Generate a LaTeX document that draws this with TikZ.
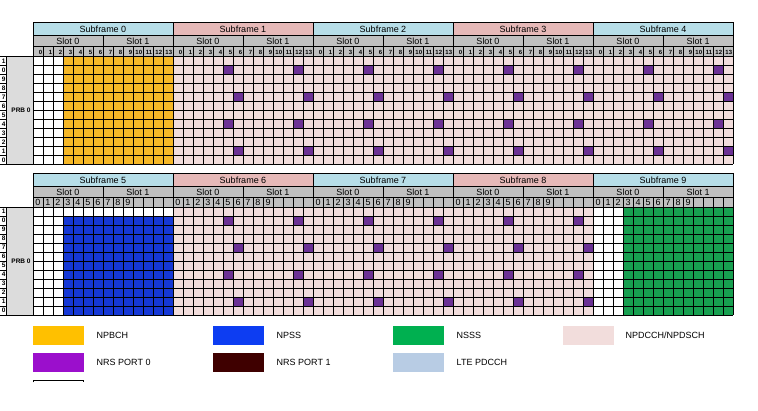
\documentclass[tikz,border=0pt]{standalone}
\usepackage{fontspec}
\setmainfont{Liberation Sans}
\definecolor{npbchG}{HTML}{F7B827}
\definecolor{npbchL}{HTML}{FFC000}
\definecolor{npssG}{HTML}{1538D6}
\definecolor{npssL}{HTML}{0D3DF2}
\definecolor{nsssG}{HTML}{17A050}
\definecolor{nsssL}{HTML}{00B050}
\definecolor{npd}{HTML}{F2DDDC}
\definecolor{nrsG}{HTML}{6B3194}
\definecolor{nrsA}{HTML}{9B0FCC}
\definecolor{nrsB}{HTML}{3F0000}
\definecolor{ltepd}{HTML}{B8CCE4}
\definecolor{hdrblue}{HTML}{B7DEE8}
\definecolor{hdrpink}{HTML}{E6B9B8}
\definecolor{slotgray}{HTML}{C0C0C0}
\definecolor{prbgray}{HTML}{DCDCDC}
\begin{document}
\begin{tikzpicture}[x=1pt,y=-1pt,
  gl/.style={draw=black,line width=0.6pt},
  hdrtext/.style={font=\fontsize{9}{9}\selectfont,inner sep=0pt},
  numtop/.style={font=\fontsize{6}{6}\selectfont\bfseries,inner sep=0pt,anchor=east},
  numbot/.style={font=\fontsize{9}{9}\selectfont,inner sep=0pt},
  rowlab/.style={font=\fontsize{6.5}{6.5}\selectfont\bfseries,inner sep=0pt,anchor=east},
  prblab/.style={font=\fontsize{6.5}{6.5}\selectfont\bfseries,inner sep=0pt},
  legtext/.style={font=\fontsize{9}{9}\selectfont,inner sep=0pt,anchor=west}]
\useasboundingbox (0,0) rectangle (758,411);
\fill[white] (0,0) rectangle (758,411);

\foreach \H/\b in {22.5/0,173/1}{
  \pgfmathsetmacro\Ys{\H+13}
  \pgfmathsetmacro\Yn{\H+24}
  \pgfmathsetmacro\Yd{\H+34}
  \pgfmathsetmacro\Ye{\H+142}
  \fill[slotgray] (33,\Ys) rectangle (733,\Yd);
  % header, slot labels
  \foreach \i in {0,...,4}{
    \pgfmathtruncatemacro\sf{5*\b+\i}
    \pgfmathtruncatemacro\od{mod(\i,2)}
    \pgfmathsetmacro\xo{33+140*\i}
    \ifnum\od=1 \fill[hdrpink] (\xo,\H) rectangle ++(140,13);
    \else \fill[hdrblue] (\xo,\H) rectangle ++(140,13);\fi
    \node[hdrtext] (sf\sf) at (\xo+70,\H+6.8) {Subframe \sf};
    \node[hdrtext] (sl\sf a) at (\xo+35,\Ys+5.8) {Slot 0};
    \node[hdrtext] (sl\sf b) at (\xo+105,\Ys+5.8) {Slot 1};
  }
  % data base
  \fill[npd] (33,\Yd) rectangle (733,\Ye);
  % left label column and PRB box
  \fill[prbgray] (6.5,\Yd) rectangle (33,\Ye);
  \draw[gl] (6.5,\Yd) rectangle (33,\Ye);
  \node[prblab] (prb\b) at (21,\Yd+54) {PRB 0};
  \foreach \r/\t in {0/1,1/0,2/9,3/8,4/7,5/6,6/5,7/4,8/3,9/2,10/1,11/0}{
    \node[rowlab] (rl\b\r) at (5.8,\Yd+9*\r+4.7) {\t};
    \draw[gl] (0,\Yd+9*\r+9) -- (6.5,\Yd+9*\r+9);
  }
  \draw[gl] (0,\Yd) -- (6.5,\Yd);
}

% special regions, top block
\fill[white] (33,56.5) rectangle (63,164.5);
\fill[npbchG] (63,56.5) rectangle (173,164.5);
% bottom block
\fill[white] (33,207) rectangle (63,315);
\fill[white] (63,207) rectangle (173,216);
\fill[npssG] (63,216) rectangle (173,315);
\fill[white] (593,207) rectangle (623,315);
\fill[nsssG] (623,207) rectangle (733,315);

% NRS
\foreach \xo in {173,313,453,593}{
  \foreach \c/\r in {5/1,6/4,5/7,6/10,12/1,13/4,12/7,13/10}
    \fill[nrsG] (\xo+10*\c,56.5+9*\r) rectangle ++(10,9);
}
\foreach \xo in {173,313,453}{
  \foreach \c/\r in {5/1,6/4,5/7,6/10,12/1,13/4,12/7,13/10}
    \fill[nrsG] (\xo+10*\c,207+9*\r) rectangle ++(10,9);
}

% grid lines and numbers
\foreach \H/\b in {22.5/0,173/1}{
  \pgfmathsetmacro\Ys{\H+13}
  \pgfmathsetmacro\Yn{\H+24}
  \pgfmathsetmacro\Yd{\H+34}
  \pgfmathsetmacro\Ye{\H+142}
  \foreach \k in {0,...,70}
    \draw[gl] (33+10*\k,\Yn) -- (33+10*\k,\Ye);
  \foreach \k in {0,...,10}
    \draw[gl] (33+70*\k,\Ys) -- (33+70*\k,\Yn);
  \foreach \k in {0,...,5}
    \draw[gl] (33+140*\k,\H) -- (33+140*\k,\Ys);
  \foreach \r in {0,...,12}
    \draw[gl] (33,\Yd+9*\r) -- (733,\Yd+9*\r);
  \foreach \y in {\H,\Ys,\Yn}
    \draw[gl] (33,\y) -- (733,\y);
}
\foreach \i in {0,...,4}{
  \foreach \k in {0,...,13}
    \node[numtop] (nt\i-\k) at (33+140*\i+10*\k+9.3,52) {\k};
}
\foreach \i in {5,...,9}{
  \foreach \k in {0,...,9}
    \node[numbot] (nb\i-\k) at (33+140*\i-700+10*\k+5,202.3) {\k};
}

% legend
\fill[npbchL] (33,326) rectangle (84,345);
\node[legtext] (l1) at (96.5,335.5) {NPBCH};
\fill[npssL] (213,326) rectangle (264,345);
\node[legtext] (l2) at (276.5,335.5) {NPSS};
\fill[nsssL] (393,326) rectangle (444,345);
\node[legtext] (l3) at (456.5,335.5) {NSSS};
\fill[npd] (563,326) rectangle (614,345);
\node[legtext] (l4) at (625.5,335.5) {NPDCCH/NPDSCH};
\fill[nrsA] (33,353) rectangle (84,372);
\node[legtext] (l5) at (96.5,362.5) {NRS PORT 0};
\fill[nrsB] (213,353) rectangle (264,372);
\node[legtext] (l6) at (276.5,362.5) {NRS PORT 1};
\fill[ltepd] (393,353) rectangle (444,372);
\node[legtext] (l7) at (456.5,362.5) {LTE PDCCH};
\draw[black,line width=0.8pt] (33.4,382.5) -- (33.4,380.5) -- (83.6,380.5) -- (83.6,382.5);
\end{tikzpicture}
\end{document}
